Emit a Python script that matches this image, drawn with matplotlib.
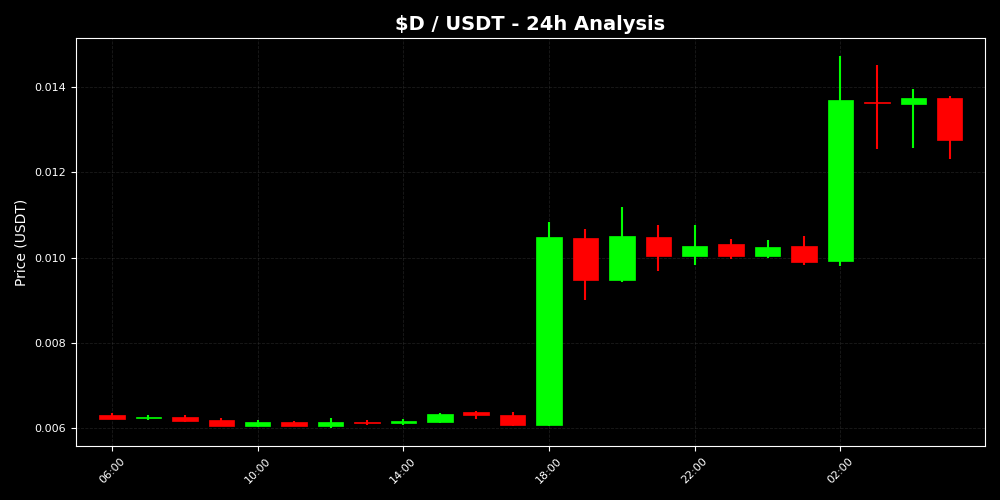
import numpy as np
import pandas as pd
import matplotlib
matplotlib.use("Agg")
import matplotlib.pyplot as plt
import matplotlib.dates as mdates

# hourly candles, 06:00 -> 05:00
times = pd.date_range("2024-01-01 06:00", periods=24, freq="h")
opens = [0.006312, 0.006228, 0.006265, 0.006188, 0.006047, 0.006148, 0.006047, 0.006148,
         0.006117, 0.006141, 0.006368, 0.006312, 0.006070, 0.010465, 0.009472, 0.010488,
         0.010035, 0.010324, 0.010035, 0.010277, 0.009918, 0.013656, 0.013609, 0.013750]
highs = [0.006345, 0.006305, 0.006310, 0.006228, 0.006188, 0.006164, 0.006235, 0.006188,
         0.006211, 0.006360, 0.006400, 0.006368, 0.010833, 0.010669, 0.011192, 0.010762,
         0.010762, 0.010434, 0.010411, 0.010512, 0.014734, 0.014516, 0.013953, 0.013789]
lows = [0.006200, 0.006188, 0.006140, 0.006040, 0.006030, 0.006040, 0.006007, 0.006070,
        0.006078, 0.006125, 0.006211, 0.006055, 0.006047, 0.009003, 0.009418, 0.009690,
        0.009824, 0.009965, 0.009988, 0.009824, 0.009800, 0.012553, 0.012576, 0.012318]
closes = [0.006211, 0.006265, 0.006164, 0.006047, 0.006148, 0.006047, 0.006148, 0.006110,
          0.006172, 0.006336, 0.006305, 0.006070, 0.010488, 0.009472, 0.010512, 0.010035,
          0.010277, 0.010035, 0.010254, 0.009894, 0.013695, 0.013617, 0.013750, 0.012756]

up_color = "#00ff00"
down_color = "#ff0000"

fig = plt.figure(figsize=(10, 5), dpi=100, facecolor="black")
ax = fig.add_axes([0.076, 0.108, 0.909, 0.816], facecolor="black")

x = mdates.date2num(times)
width = 0.7 / 24

for xi, o, h, l, c in zip(x, opens, highs, lows, closes):
    color = up_color if c >= o else down_color
    ax.vlines(xi, l, h, color=color, linewidth=1.5, zorder=2)
    bottom = min(o, c)
    height = max(abs(c - o), 0.00003)
    ax.bar(xi, height, width=width, bottom=bottom, color=color, edgecolor=color,
           linewidth=0.5, zorder=3)

ax.set_xlim(x[0] - 0.99 / 24, x[0] + 23.97 / 24)
ax.set_ylim(0.005578, 0.01515)

ax.xaxis.set_major_locator(mdates.HourLocator(byhour=range(2, 24, 4)))
ax.xaxis.set_major_formatter(mdates.DateFormatter("%H:%M"))
ax.set_yticks([0.006, 0.008, 0.010, 0.012, 0.014])
ax.yaxis.set_major_formatter(matplotlib.ticker.FormatStrFormatter("%.3f"))

plt.setp(ax.get_xticklabels(), rotation=45, ha="center")
ax.tick_params(colors="white", labelsize=8)
for spine in ax.spines.values():
    spine.set_color("white")

ax.grid(True, color="#444444", linestyle="--", linewidth=0.6, alpha=0.4)
ax.set_axisbelow(True)

ax.set_title(r"\$D / USDT - 24h Analysis", color="white", fontsize=14, fontweight="bold")
ax.set_ylabel("Price (USDT)", color="white", fontsize=10)

fig.savefig("out.png", facecolor="black")
